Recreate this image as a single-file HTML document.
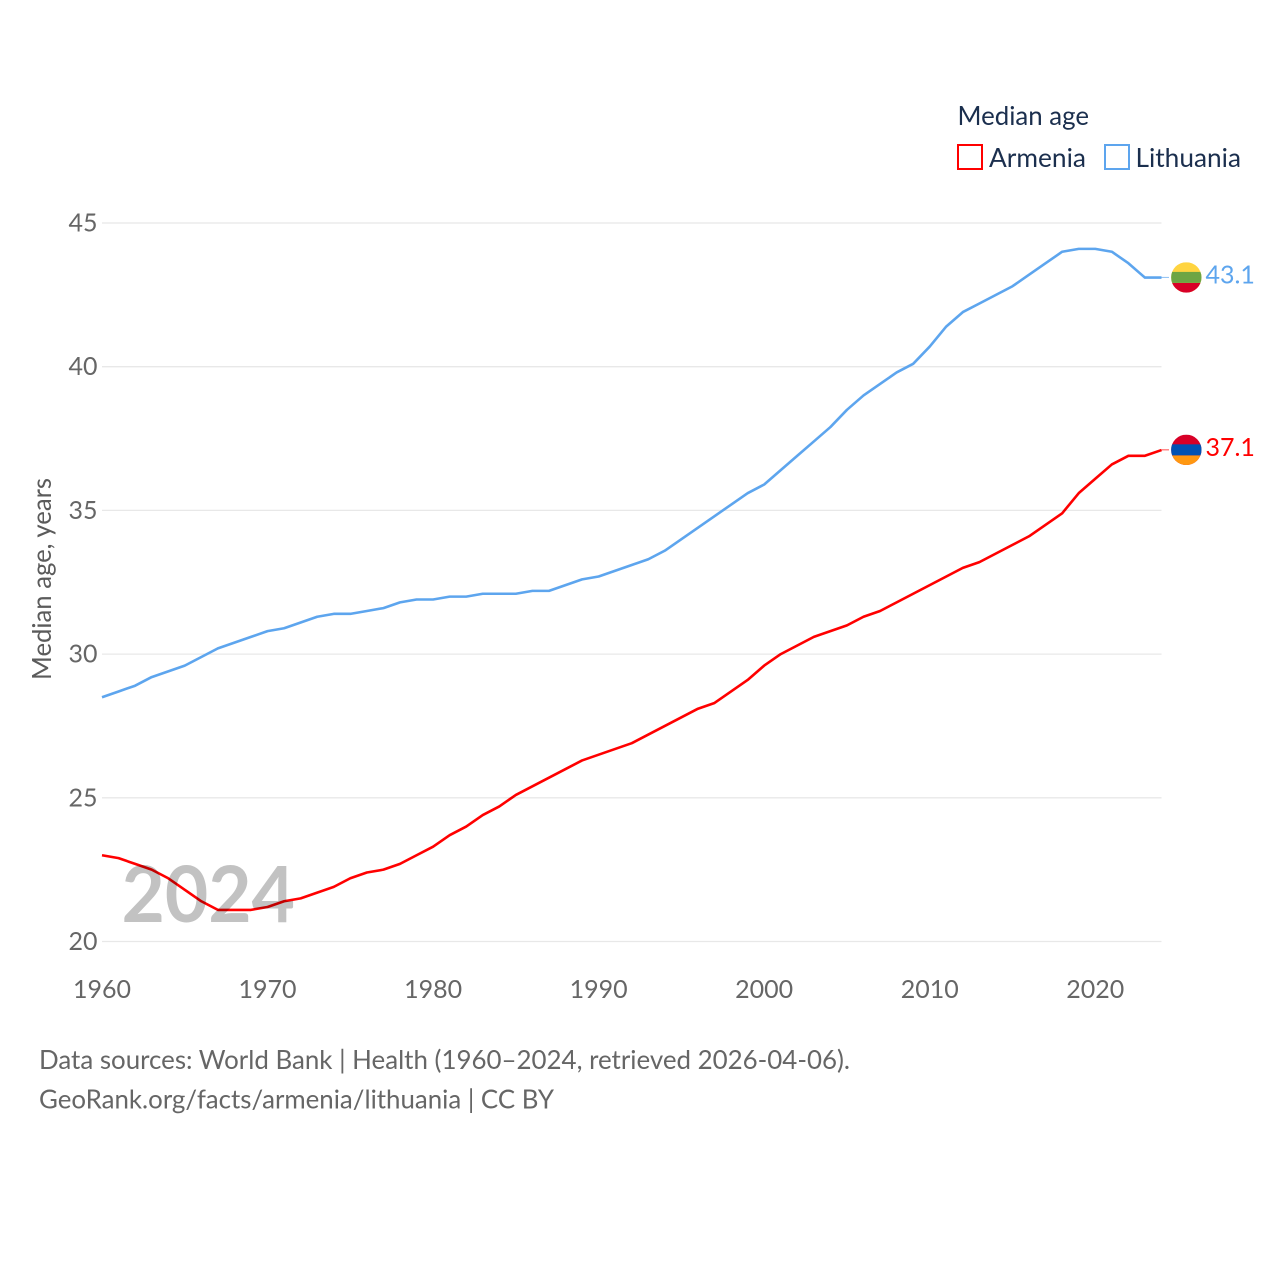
<!DOCTYPE html>
<html lang="en">
<head>
<meta charset="utf-8">
<title>Median age: Armenia and Lithuania</title>
<style>
html,body{margin:0;padding:0;background:#fff;}
svg{display:block;}
text{font-family:"Lato","Carlito","Liberation Sans",sans-serif;}
</style>
</head>
<body>
<svg id="chart" xmlns="http://www.w3.org/2000/svg" width="1280" height="1280" viewBox="0 0 1280 1280">
  <rect x="0" y="0" width="1280" height="1280" fill="#fff"/>
  <g id="grid"></g>
  <g id="yticks"></g>
  <g id="xticks"></g>
  <text transform="translate(51,680) rotate(-90)" font-size="26" fill="#5b5b5b" textLength="202" lengthAdjust="spacingAndGlyphs">Median age, years</text>
  <text x="121.500" y="922" font-size="78" font-weight="700" fill="#c2c2c2" textLength="173.500" lengthAdjust="spacingAndGlyphs">2024</text>
  <g id="series"></g>
  <g id="endmarks"></g>
  <g>
    <text x="957.500" y="125" font-size="26" fill="#1b2f4e" textLength="131.500" lengthAdjust="spacingAndGlyphs">Median age</text>
    <g>
      <rect x="958" y="145" width="24" height="24" fill="#fff" stroke="#ff0000" stroke-width="2"/>
      <text x="989" y="167" font-size="26" fill="#1b2f4e" textLength="97" lengthAdjust="spacingAndGlyphs">Armenia</text>
    </g>
    <g>
      <rect x="1105" y="145" width="24" height="24" fill="#fff" stroke="#5da5ee" stroke-width="2"/>
      <text x="1135.500" y="167" font-size="26" fill="#1b2f4e" textLength="105.500" lengthAdjust="spacingAndGlyphs">Lithuania</text>
    </g>
  </g>
  <text x="39" y="1069" font-size="25.900" fill="#666" textLength="811" lengthAdjust="spacingAndGlyphs">Data sources: World Bank | Health (1960–2024, retrieved 2026-04-06).</text>
  <text x="39" y="1108.500" font-size="25.900" fill="#666" textLength="515" lengthAdjust="spacingAndGlyphs">GeoRank.org/facts/armenia/lithuania | CC BY</text>
</svg>
<script>
const years = [1960,1961,1962,1963,1964,1965,1966,1967,1968,1969,1970,1971,1972,1973,1974,1975,1976,1977,1978,1979,1980,1981,1982,1983,1984,1985,1986,1987,1988,1989,1990,1991,1992,1993,1994,1995,1996,1997,1998,1999,2000,2001,2002,2003,2004,2005,2006,2007,2008,2009,2010,2011,2012,2013,2014,2015,2016,2017,2018,2019,2020,2021,2022,2023,2024];
const armenia = [23.0,22.9,22.7,22.5,22.2,21.8,21.4,21.1,21.1,21.1,21.2,21.4,21.5,21.7,21.9,22.2,22.4,22.5,22.7,23.0,23.3,23.7,24.0,24.4,24.7,25.1,25.4,25.7,26.0,26.3,26.5,26.7,26.9,27.2,27.5,27.8,28.1,28.3,28.7,29.1,29.6,30.0,30.3,30.6,30.8,31.0,31.3,31.5,31.8,32.1,32.4,32.7,33.0,33.2,33.5,33.8,34.1,34.5,34.9,35.6,36.1,36.6,36.9,36.9,37.1];
const lithuania = [28.5,28.7,28.9,29.2,29.4,29.6,29.9,30.2,30.4,30.6,30.8,30.9,31.1,31.3,31.4,31.4,31.5,31.6,31.8,31.9,31.9,32.0,32.0,32.1,32.1,32.1,32.2,32.2,32.4,32.6,32.7,32.9,33.1,33.3,33.6,34.0,34.4,34.8,35.2,35.6,35.9,36.4,36.9,37.4,37.9,38.5,39.0,39.4,39.8,40.1,40.7,41.4,41.9,42.2,42.5,42.8,43.2,43.6,44.0,44.1,44.1,44.0,43.6,43.1,43.1];
const yTickValues = [20,25,30,35,40,45];
const xTickValues = [1960,1970,1980,1990,2000,2010,2020];

const NS = 'http://www.w3.org/2000/svg';
const xScale = function (year) { return 102 + (year - 1960) * (1161.500 - 102) / 64; };
const yScale = function (value) { return 941.5 - (value - 20) * (941.5 - 223) / 25; };

function make(tag, parent, attrs) {
  const el = document.createElementNS(NS, tag);
  Object.keys(attrs).forEach(function (k) { el.setAttribute(k, attrs[k]); });
  parent.appendChild(el);
  return el;
}

const grid = document.getElementById('grid');
const yticks = document.getElementById('yticks');
yTickValues.forEach(function (v) {
  const line = make('line', grid, {x1: 102, x2: 1161.500, y1: yScale(v), y2: yScale(v), stroke: '#e8e8e8', 'stroke-width': 1.300});
  
  
  const t = make('text', yticks, {x: 97.500, y: yScale(v) + 8.500, 'font-size': 25, fill: '#666', 'text-anchor': 'end'});
  
  
  t.textContent = v;
});

const xticks = document.getElementById('xticks');
xTickValues.forEach(function (v) {
  const t = make('text', xticks, {x: xScale(v), y: 998, 'font-size': 25, fill: '#666', 'text-anchor': 'middle'});
  
  
  t.textContent = v;
});

function pathFor(values) {
  return values.map(function (v, i) {
    return (i ? 'L' : 'M') + xScale(years[i]).toFixed(2) + ' ' + yScale(v).toFixed(2);
  }).join(' ');
}

const seriesGroup = document.getElementById('series');
const lithLine = make('path', seriesGroup, {d: pathFor(lithuania), fill: 'none', stroke: '#5da5ee', 'stroke-width': 2.600, 'stroke-linejoin': 'round'});


const armLine = make('path', seriesGroup, {d: pathFor(armenia), fill: 'none', stroke: '#ff0000', 'stroke-width': 2.600, 'stroke-linejoin': 'round', style: 'mix-blend-mode:multiply'});



const defs = make('defs', document.getElementById('chart'), {});
function drawEnd(values, color, stripes, id) {
  const last = values[values.length - 1];
  const cy = yScale(last) - 0.2;
  const cx = 1186.300;
  const r = 15.200;
  const group = document.getElementById('endmarks');
  const clip = make('clipPath', defs, {id: 'clip-' + id});
  make('circle', clip, {cx: cx, cy: cy, r: r});
  const conn = make('line', group, {x1: 1161.500, x2: 1169, y1: cy, y2: cy, stroke: color, 'stroke-width': 1, opacity: 0.7});
  
  
  const flag = make('g', group, {'clip-path': 'url(#clip-' + id + ')'});
  
  
  make('rect', flag, {x: cx - r, y: cy - r, width: 2 * r, height: 2 * r, fill: stripes[0]});
  make('rect', flag, {x: cx - r, y: cy + 5.500, width: 2 * r, height: 10, fill: stripes[2]});
  make('rect', flag, {x: cx - r, y: cy - 5.500, width: 2 * r, height: 11, fill: stripes[1]});
  const label = make('text', group, {x: 1205.500, y: cy + 6, 'font-size': 25, fill: color});
  
  
  label.textContent = last.toFixed(1);
}
drawEnd(lithuania, '#5da5ee', ['#ffd440', '#6da544', '#d80027'], 'lithuania');
drawEnd(armenia, '#ff0000', ['#d80027', '#0052b4', '#ff9811'], 'armenia');
</script>
</body>
</html>
